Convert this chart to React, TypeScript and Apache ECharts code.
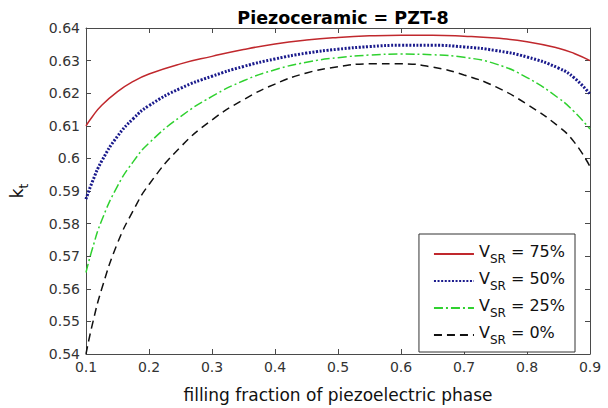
import React, { useEffect, useRef } from "react";
import * as echarts from "echarts";

const xs = [0.1, 0.11, 0.125, 0.15, 0.175, 0.2, 0.25, 0.3, 0.35, 0.4, 0.45, 0.5, 0.55, 0.6, 0.65, 0.7, 0.75, 0.8, 0.85, 0.875, 0.9];
const v75 = [0.61, 0.6128, 0.6163, 0.6205, 0.6236, 0.6259, 0.629, 0.6313, 0.6334, 0.6351, 0.6363, 0.6371, 0.6376, 0.6378, 0.6378, 0.6375, 0.6369, 0.6358, 0.6338, 0.6322, 0.63];
const v50 = [0.5875, 0.5928, 0.5992, 0.6068, 0.6122, 0.6162, 0.6215, 0.6252, 0.6282, 0.6305, 0.6323, 0.6335, 0.6343, 0.6347, 0.6347, 0.6342, 0.6331, 0.6311, 0.6277, 0.6247, 0.6197];
const v25 = [0.565, 0.5722, 0.581, 0.5915, 0.599, 0.6047, 0.6128, 0.619, 0.6238, 0.6272, 0.6295, 0.6309, 0.6317, 0.632, 0.6318, 0.631, 0.629, 0.6248, 0.6185, 0.6143, 0.609];
const v0 = [0.54, 0.549, 0.56, 0.574, 0.584, 0.592, 0.6035, 0.6118, 0.618, 0.6228, 0.6262, 0.6281, 0.629, 0.629, 0.628, 0.6256, 0.622, 0.6166, 0.6098, 0.605, 0.5975];
const seriesLabels = ["75%", "50%", "25%", "0%"];

const FONT = "DejaVu Sans";
const AX = "#4a4a4a";

export default function App() {
  const ref = useRef<HTMLDivElement>(null);
  useEffect(() => {
    if (!ref.current) return;
    const chart = echarts.init(ref.current, undefined, { renderer: "svg" });
    const values = [v75, v50, v25, v0];
    const styles = [
      { color: "#c0282d", width: 1.5, type: "solid" as any },
      { color: "#1a1a8c", width: 3, type: [2, 1.6] as any },
      { color: "#2fd12f", width: 1.5, type: [9, 3, 2, 3] as any },
      { color: "#111111", width: 1.5, type: [8, 5] as any },
    ];
    const names = seriesLabels.map((l) => `V_SR = ${l}`);
    const axisCommon = {
      type: "value" as const,
      axisLine: { show: true, onZero: false, lineStyle: { color: AX, width: 1 } },
      axisTick: { show: true, inside: true, length: 5, lineStyle: { color: AX } },
      splitLine: { show: false },
    };
    chart.setOption({
      animation: false,
      backgroundColor: "#ffffff",
      title: {
        text: "Piezoceramic = PZT-8",
        left: 338,
        textAlign: "center",
        top: 4,
        textStyle: { fontFamily: FONT, fontSize: 17.5, fontWeight: "bold", color: "#000" },
      },
      grid: { left: 84, top: 28, width: 506, height: 334 },
      legend: {
        orient: "vertical",
        right: 33,
        top: 234,
        backgroundColor: "#fff",
        borderColor: "#333",
        borderWidth: 1,
        padding: [9, 10, 6, 14],
        itemWidth: 40,
        itemHeight: 10,
        itemGap: 5,
        itemStyle: { opacity: 0 },
        data: names,
        formatter: (n: string) => {
          const pct = n.split("= ")[1];
          return `{v|V}{s|SR}{v| = ${pct}}`;
        },
        textStyle: {
          fontFamily: FONT,
          color: "#111",
          rich: {
            v: { fontFamily: FONT, fontSize: 16, color: "#111", lineHeight: 22, verticalAlign: "top", padding: [0, 0, 6, 0] },
            s: { fontFamily: FONT, fontSize: 12, color: "#111", lineHeight: 22, verticalAlign: "bottom" },
          },
        },
      },
      xAxis: [
        {
          ...axisCommon,
          min: 0.1,
          max: 0.9,
          interval: 0.1,
          name: "filling fraction of piezoelectric phase",
          nameLocation: "middle",
          nameGap: 32,
          nameTextStyle: { fontFamily: FONT, fontSize: 17, color: "#111" },
          axisLabel: {
            fontFamily: FONT,
            fontSize: 14,
            color: "#333",
            margin: 6,
            formatter: (v: number) => String(+v.toFixed(2)),
          },
        },
        {
          ...axisCommon,
          position: "top",
          min: 0.1,
          max: 0.9,
          interval: 0.1,
          axisLabel: { show: false },
        },
      ],
      yAxis: [
        {
          ...axisCommon,
          min: 0.54,
          max: 0.64,
          interval: 0.01,
          name: "{k|k}{t|t}",
          nameLocation: "middle",
          nameGap: 56,
          nameRotate: 90,
          nameTextStyle: {
            rich: {
              k: { fontFamily: FONT, fontSize: 17, color: "#111", lineHeight: 22, verticalAlign: "top" },
              t: { fontFamily: FONT, fontSize: 12, color: "#111", lineHeight: 22, verticalAlign: "bottom" },
            },
          },
          axisLabel: {
            fontFamily: FONT,
            fontSize: 14,
            color: "#333",
            margin: 6,
            formatter: (v: number) => String(+v.toFixed(2)),
          },
        },
        {
          ...axisCommon,
          position: "right",
          min: 0.54,
          max: 0.64,
          interval: 0.01,
          axisLabel: { show: false },
        },
      ],
      series: values.map((arr, i) => ({
        type: "line",
        name: names[i],
        data: xs.map((x, j) => [x, arr[j]]),
        symbol: "none",
        smooth: 0.5,
        lineStyle: { ...styles[i], cap: "butt" },
        itemStyle: { color: styles[i].color },
        z: 2 + i,
      })),
    });
    return () => chart.dispose();
  }, []);
  return (
    <div
      ref={ref}
      style={{ position: "fixed", left: 0, top: 0, width: 608, height: 408, background: "#fff" }}
    />
  );
}
